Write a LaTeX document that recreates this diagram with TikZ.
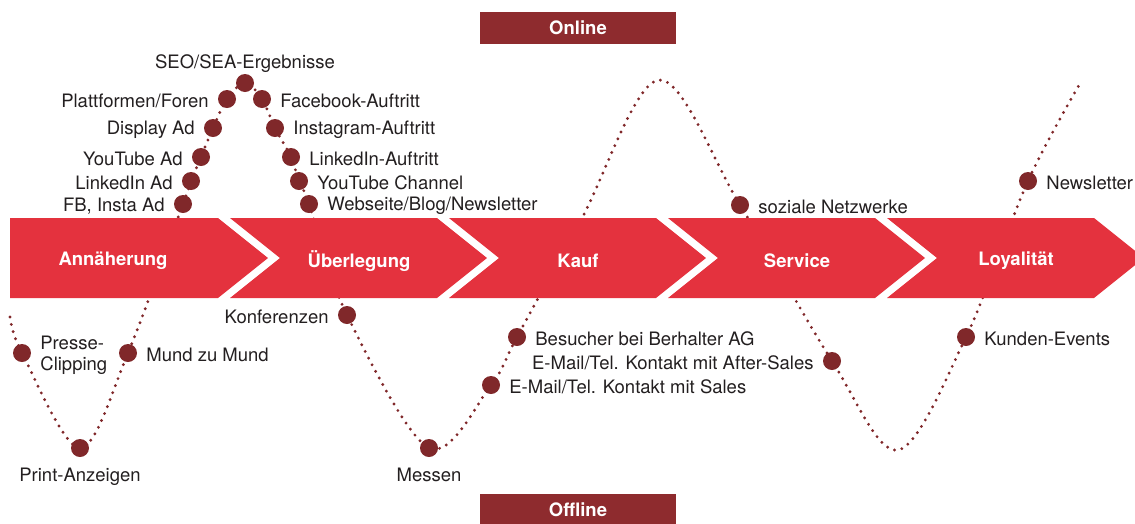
\documentclass[tikz,border=0pt]{standalone}
\usepackage{fontspec}
\setmainfont{TeX Gyre Heros}
\usetikzlibrary{positioning}
\definecolor{bandred}{RGB}{228,50,62}
\definecolor{boxred}{RGB}{142,43,46}
\definecolor{dotred}{RGB}{128,40,42}
\definecolor{txtgray}{RGB}{35,31,32}
\tikzset{
  touch/.style={circle, fill=dotred, minimum size=18pt, inner sep=0pt},
  lbl/.style={text=txtgray, inner sep=2pt, yshift=-2pt, font=\fontsize{18.5}{21}\selectfont},
  stage/.style={text=white, font=\fontsize{18.5}{21}\selectfont\bfseries},
  channel/.style={fill=boxred, text=white, minimum width=196pt, minimum height=32pt,
    inner sep=0pt, font=\fontsize{18.5}{21}\selectfont\bfseries},
  journey/.style={dotred, line width=3.2pt, line cap=round, dash pattern=on 0pt off 7.5pt}
}
\begin{document}
\begin{tikzpicture}[x=1pt, y=-1pt, node distance=7pt]
\useasboundingbox (0,0) rectangle (1135,523);
\clip (0,0) rectangle (1135,523);

% touch points, online
\node[touch] (seo) at (245,83) {};
\node[touch] (plattf) at (227,99) {};
\node[touch] (display) at (213,128) {};
\node[touch] (ytad) at (201,157) {};
\node[touch] (liad) at (191,181) {};
\node[touch] (fbad) at (183,204) {};
\node[touch] (fbauf) at (262,99) {};
\node[touch] (insta) at (275,128) {};
\node[touch] (liauf) at (291,157) {};
\node[touch] (ytch) at (299,181) {};
\node[touch] (web) at (309,204) {};
\node[touch] (sozial) at (740,205) {};
\node[touch] (news) at (1028,181) {};
% touch points, offline
\node[touch] (presse) at (22,353) {};
\node[touch] (print) at (80,448) {};
\node[touch] (mund) at (128,353) {};
\node[touch] (konf) at (347,315) {};
\node[touch] (messen) at (429,448) {};
\node[touch] (sales) at (491,385) {};
\node[touch] (besuch) at (517,337) {};
\node[touch] (after) at (832,361) {};
\node[touch] (events) at (966,337) {};

% helper points of the wave
\coordinate (start) at (10,317);
\coordinate (rise) at (582,218);
\coordinate (peak) at (659,80);
\coordinate (low) at (898,450);
\coordinate (stop) at (1082,80);

\draw[journey] plot[smooth, tension=0.55] coordinates {(start) (presse) (print) (mund)
  (fbad) (liad) (ytad) (display) (plattf) (seo) (fbauf) (insta) (liauf) (ytch) (web)
  (konf) (messen) (sales) (besuch) (rise) (peak) (sozial) (after) (low) (events)
  (news) (stop)};

% phases
\fill[bandred] (10,218) -- (218,218) -- (268,258) -- (218,298) -- (10,298) -- cycle;
\foreach \i in {1,...,4}
  \fill[bandred] (11+219*\i,218) -- (218+219*\i,218) -- (268+219*\i,258)
    -- (218+219*\i,298) -- (11+219*\i,298) -- (61+219*\i,258) -- cycle;
\node[stage] (annae) at (113,261) {Annäherung};
\node[stage] (ueber) at (359,261) {Überlegung};
\node[stage] (kauf) at (578,261) {Kauf};
\node[stage] (service) at (797,261) {Service};
\node[stage] (loyal) at (1016,261) {Loyalität};

\node[channel] (online) at (578,28) {Online};
\node[channel] (offline) at (578,510) {Offline};

% labels
\node[lbl, above=1pt of seo] {SEO/SEA-Ergebnisse};
\node[lbl, left=of plattf] {Plattformen/Foren};
\node[lbl, left=of display] {Display Ad};
\node[lbl, left=of ytad] {YouTube Ad};
\node[lbl, left=of liad] {LinkedIn Ad};
\node[lbl, left=of fbad] {FB, Insta Ad};
\node[lbl, right=of fbauf] {Facebook-Auftritt};
\node[lbl, right=of insta] {Instagram-Auftritt};
\node[lbl, right=of liauf] {LinkedIn-Auftritt};
\node[lbl, right=of ytch] {YouTube Channel};
\node[lbl, right=of web] {Webseite/Blog/Newsletter};
\node[lbl, right=of sozial] {soziale Netzwerke};
\node[lbl, right=of news] {Newsletter};
\node[lbl, right=of presse, align=left] {Presse-\\Clipping};
\node[lbl, below=7pt of print] {Print-Anzeigen};
\node[lbl, right=of mund] {Mund zu Mund};
\node[lbl, left=of konf] {Konferenzen};
\node[lbl, below=7pt of messen] {Messen};
\node[lbl, right=of sales] {E-Mail/Tel. Kontakt mit Sales};
\node[lbl, right=of besuch] {Besucher bei Berhalter AG};
\node[lbl, left=of after] {E-Mail/Tel. Kontakt mit After-Sales};
\node[lbl, right=of events] {Kunden-Events};
\end{tikzpicture}
\end{document}
